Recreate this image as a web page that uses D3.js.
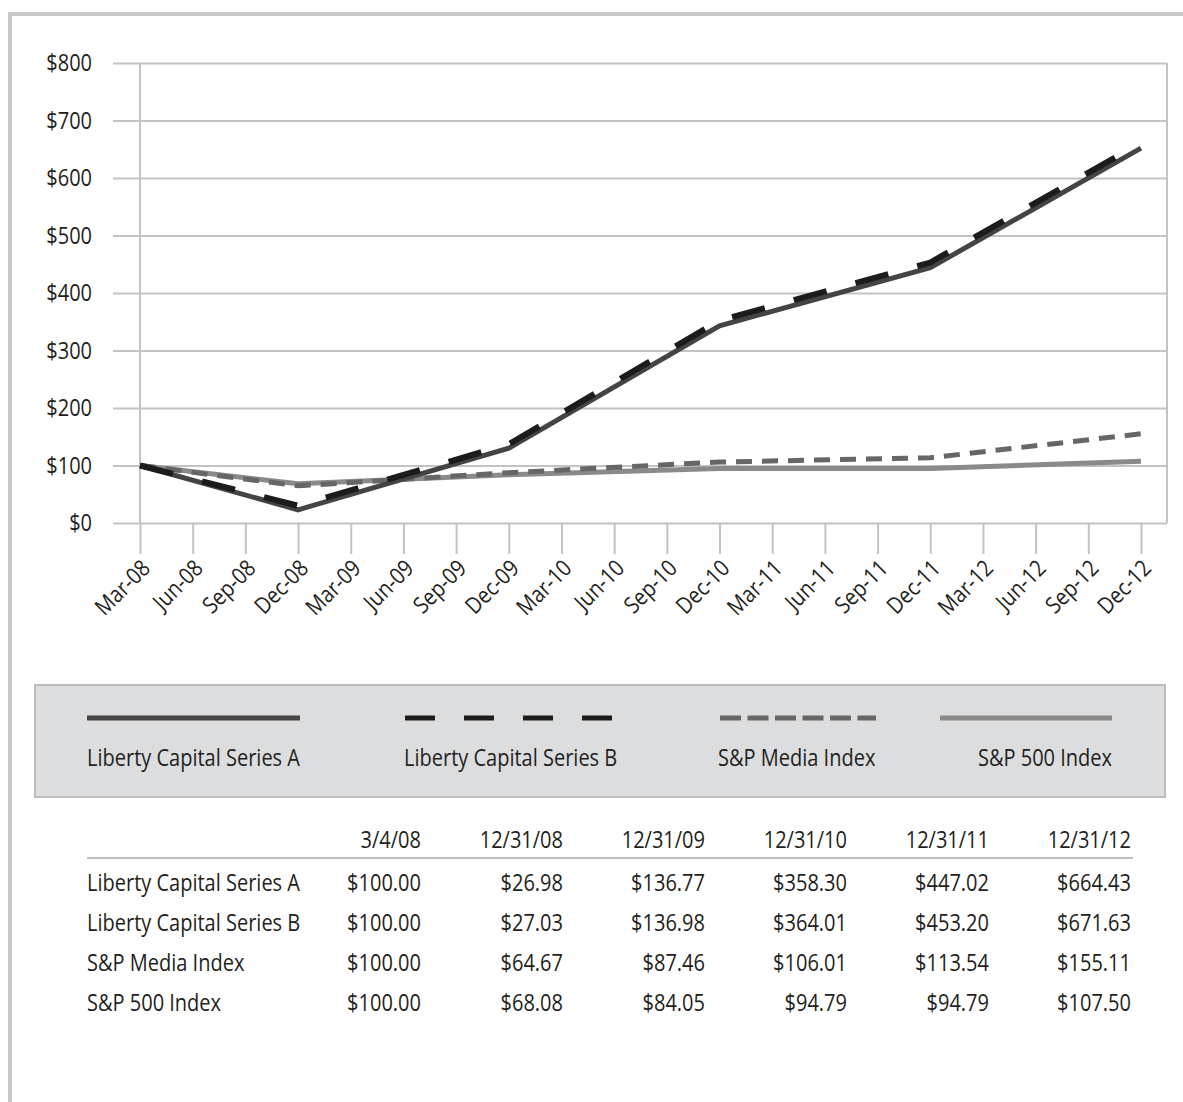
<!DOCTYPE html>
<html>
<head>
<meta charset="utf-8">
<script src="https://cdn.jsdelivr.net/npm/d3@7"></script>
<style>
  body { margin: 0; background: #fff; }
  svg text { font-family: "Open Sans", "Noto Sans", sans-serif; fill: #231f20; font-size: 23px; }
</style>
</head>
<body>
<svg id="chart" width="1183" height="1102"></svg>
<script>
// quarter labels on the x axis
var quarters = ["Mar-08","Jun-08","Sep-08","Dec-08","Mar-09","Jun-09","Sep-09","Dec-09",
  "Mar-10","Jun-10","Sep-10","Dec-10","Mar-11","Jun-11","Sep-11","Dec-11",
  "Mar-12","Jun-12","Sep-12","Dec-12"];

// points where the lines have values
var linePoints = ["Mar-08","Dec-08","Dec-09","Dec-10","Dec-11","Dec-12"];
var tableDates = ["3/4/08","12/31/08","12/31/09","12/31/10","12/31/11","12/31/12"];

var seriesNames = ["Liberty Capital Series A","Liberty Capital Series B","S&P Media Index","S&P 500 Index"];

// table values
var libertyA = [100.00, 26.98, 136.77, 358.30, 447.02, 664.43];
var libertyB = [100.00, 27.03, 136.98, 364.01, 453.20, 671.63];
var spMedia  = [100.00, 64.67, 87.46, 106.01, 113.54, 155.11];
var sp500    = [100.00, 68.08, 84.05, 94.79, 94.79, 107.50];

// the plotted Liberty lines sit a little below the table figures
var lineA = [100, 23, 130, 343, 444, 652];
var lineB = [100, 30, 137, 352, 453, 661];

var yTicks = [0,100,200,300,400,500,600,700,800];

var svg = d3.select("#chart");
var grid = "#c3c3c5";
var sx = 0.87; // squeeze text horizontally to look like a condensed face

function label(parent, px, py, str, anchor, extra) {
  return parent.append("text")
    .attr("transform", "translate(" + px + "," + py + ")" + (extra || "") + " scale(" + sx + ",1)")
    .attr("text-anchor", anchor || "start")
    .text(str);
}

// outer frame (top and left only)
svg.append("path")
  .attr("d", "M10,1102 L10,14 L1183,14")
  .attr("fill", "none").attr("stroke", "#c9c9c9").attr("stroke-width", 4);

var x = d3.scalePoint().domain(quarters).range([140, 1141]);
var y = d3.scaleLinear().domain([0, 800]).range([523, 63]);

// y axis + gridlines
var yAxis = svg.append("g").attr("transform", "translate(113,0)")
  .call(d3.axisLeft(y).tickValues(yTicks).tickSize(-(1167 - 113)).tickFormat(""));
yAxis.select(".domain").remove();
yAxis.selectAll("line").attr("stroke", grid).attr("stroke-width", 2);
yTicks.forEach(function(v){
  label(svg, 92, y(v) + 8, "$" + v, "end");
});

// x axis ticks
var xAxis = svg.append("g").attr("transform", "translate(0," + y(0) + ")")
  .call(d3.axisBottom(x).tickSize(31).tickFormat(""));
xAxis.select(".domain").remove();
xAxis.selectAll("line").attr("stroke", grid).attr("stroke-width", 2);

var xl = svg.append("g");
quarters.forEach(function(q){
  label(xl, x(q) + 6, 564, q, "end", " rotate(-45)").attr("dy", "0.35em");
});

// left axis line and right frame
svg.append("line").attr("x1", 140).attr("x2", 140).attr("y1", y(800)).attr("y2", y(0))
  .attr("stroke", grid).attr("stroke-width", 2);
svg.append("line").attr("x1", 1167).attr("x2", 1167).attr("y1", y(800)).attr("y2", y(0))
  .attr("stroke", grid).attr("stroke-width", 2);

var styles = [
  {color: "#444444", width: 5, dash: null},
  {color: "#1c1c1c", width: 6, dash: "34,30"},
  {color: "#666666", width: 5, dash: "16,10"},
  {color: "#8a8a8a", width: 5, dash: null}
];
var values = [libertyA, libertyB, spMedia, sp500];
var plotted = [lineA, lineB, spMedia, sp500];

var line = d3.line()
  .x(function(d, i){ return x(linePoints[i]); })
  .y(function(d){ return y(d); });

// draw order: S&P 500, Media, A, B
[3, 2, 0, 1].forEach(function(k){
  svg.append("path").datum(plotted[k])
    .attr("d", line)
    .attr("fill", "none")
    .attr("stroke", styles[k].color)
    .attr("stroke-width", styles[k].width)
    .attr("stroke-dasharray", styles[k].dash);
});

// legend
svg.append("rect").attr("x", 35).attr("y", 685).attr("width", 1130).attr("height", 112)
  .attr("fill", "#dcdddf").attr("stroke", "#bdbdbf").attr("stroke-width", 2);

var legendLines = [[87, 300], [405, 612], [720, 876], [940, 1112]];
var legendDash = [null, "30,29", "21,6.5", null];
var legendText = [{x: 87, anchor: "start"}, {x: 404, anchor: "start"}, {x: 718, anchor: "start"}, {x: 1112, anchor: "end"}];
seriesNames.forEach(function(name, k){
  svg.append("line")
    .attr("x1", legendLines[k][0]).attr("x2", legendLines[k][1])
    .attr("y1", 718).attr("y2", 718)
    .attr("stroke", styles[k].color).attr("stroke-width", 5)
    .attr("stroke-dasharray", legendDash[k]);
  label(svg, legendText[k].x, 766, name, legendText[k].anchor);
});

// table
var colRight = d3.range(6).map(function(i){ return 421 + i * 142; });
var fmt = function(v){ return "$" + d3.format(",.2f")(v); };

tableDates.forEach(function(d, i){
  label(svg, colRight[i], 848, d, "end");
});

svg.append("line").attr("x1", 87).attr("x2", 1133).attr("y1", 858).attr("y2", 858)
  .attr("stroke", "#bdbdbf").attr("stroke-width", 2);

seriesNames.forEach(function(name, k){
  var rowY = 891 + k * 40;
  label(svg, 87, rowY, name, "start");
  values[k].forEach(function(v, i){
    label(svg, colRight[i], rowY, fmt(v), "end");
  });
});
</script>
</body>
</html>
